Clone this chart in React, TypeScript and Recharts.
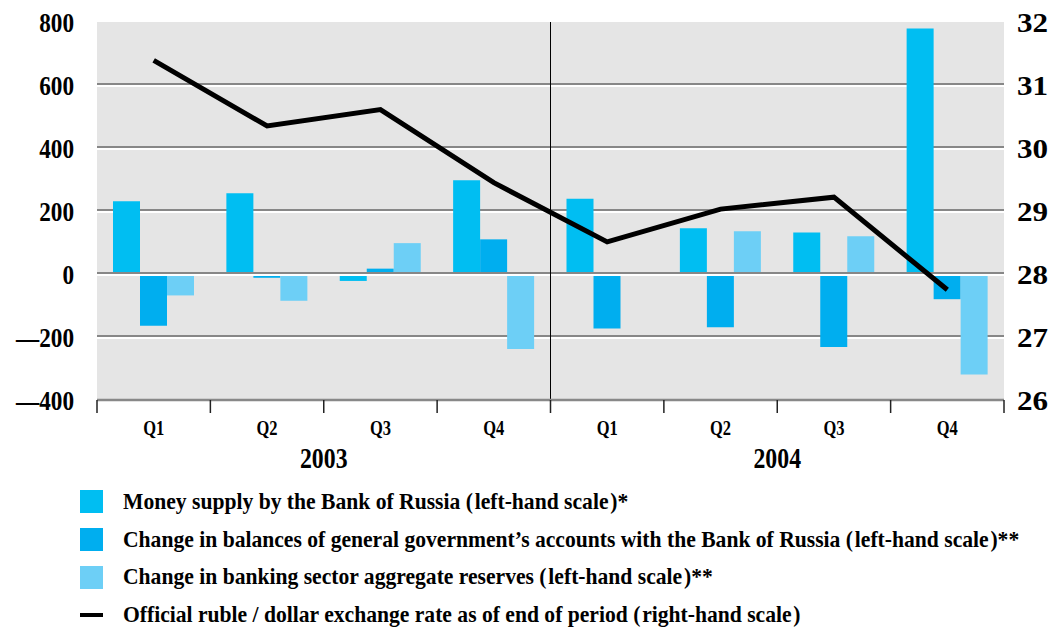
import React from 'react';
import { ComposedChart, Bar, Line, XAxis, YAxis, CartesianGrid, ReferenceLine, Legend } from 'recharts';

const quarters = ['Q1', 'Q2', 'Q3', 'Q4', 'Q1', 'Q2', 'Q3', 'Q4'];
const years = ['2003', '2004'];
const moneySupply = [231, 256, -22, 298, 239, 145, 132, 779];
const govBalances = [-164, -12, 17, 110, -173, -169, -232, -80];
const bankReserves = [-68, -85, 98, -238, -5, 136, 120, -319];
const exchangeRate = [31.39, 30.35, 30.61, 29.45, 28.51, 29.03, 29.22, 27.75];
const leftTicks = [-400, -200, 0, 200, 400, 600, 800];
const rightTicks = [26, 27, 28, 29, 30, 31, 32];
const seriesNames = [
  'Money supply by the Bank of Russia (\u200Aleft-hand scale\u200A)*',
  'Change in balances of general government\u2019s accounts with the Bank of Russia (\u200Aleft-hand scale\u200A)**',
  'Change in banking sector aggregate reserves (\u200Aleft-hand scale\u200A)**',
  'Official ruble / dollar exchange rate as of end of period (\u200Aright-hand scale\u200A)',
];
const seriesColors = ['#00BEF2', '#00AEEF', '#6DCFF6', '#000000'];

const data = quarters.map((q, i) => ({
  key: `${years[Math.floor(i / 4)]}-${q}`,
  money: moneySupply[i],
  gov: govBalances[i],
  res: bankReserves[i],
  rate: exchangeRate[i],
}));

const FONT = "'Liberation Serif', 'DejaVu Serif Condensed', 'DejaVu Serif', 'Noto Serif', serif";
const GRID_GREY = '#878787';
const TICK_COLOR = '#222';

const fmtLeft = (v: number) => (v < 0 ? '\u2014' + Math.abs(v) : String(v));

const LeftTick = (p: any) => (
  <text transform={`translate(${p.x},${p.y + 9.5}) scale(0.86,1)`} textAnchor="end"
    style={{ fontFamily: FONT, fontWeight: 700, fontSize: 27, fill: '#000' }}>
    {fmtLeft(p.payload.value)}
  </text>
);
const RightTick = (p: any) => (
  <text transform={`translate(${p.x},${p.y + 9.5}) scale(1.15,1)`} textAnchor="start"
    style={{ fontFamily: FONT, fontWeight: 700, fontSize: 27, fill: '#000' }}>
    {p.payload.value}
  </text>
);

const QuarterTick = (p: any) => {
  const { x, y, payload, index } = p;
  const half = payload.offset || 0;
  const quarter = String(payload.value).split('-')[1];
  const yearIdx = Math.floor(index / 4);
  return (
    <g>
      <line x1={x - half} x2={x - half} y1={y} y2={y + 13} stroke={TICK_COLOR} strokeWidth={1.5} />
      {index === quarters.length - 1 && (
        <line x1={x + half} x2={x + half} y1={y} y2={y + 13} stroke={TICK_COLOR} strokeWidth={1.5} />
      )}
      <text transform={`translate(${x},${y + 35}) scale(0.75,1)`} textAnchor="middle"
        style={{ fontFamily: FONT, fontWeight: 700, fontSize: 22, fill: '#000' }}>
        {quarter}
      </text>
      {index % 4 === 1 && (
        <text transform={`translate(${x + half},${y + 68}) scale(0.82,1)`} textAnchor="middle"
          style={{ fontFamily: FONT, fontWeight: 700, fontSize: 29, fill: '#000' }}>
          {years[yearIdx]}
        </text>
      )}
    </g>
  );
};

const gridLine = (p: any) => {
  if (Math.abs(p.y1 - p.y) < 1 || Math.abs(p.y1 - (p.y + p.height)) < 1) return <g key={p.key} />;
  return (
    <g key={p.key}>
      <line x1={p.x1} x2={p.x2} y1={p.y1 - 1} y2={p.y1 - 1} stroke={GRID_GREY} strokeWidth={2} />
      <line x1={p.x1} x2={p.x2} y1={p.y1 + 1} y2={p.y1 + 1} stroke="#ffffff" strokeWidth={2} />
    </g>
  );
};
const zeroLine = (p: any) => (
  <g>
    <line x1={p.x1} x2={p.x2} y1={p.y1 - 1} y2={p.y1 - 1} stroke={GRID_GREY} strokeWidth={2} />
    <line x1={p.x1} x2={p.x2} y1={p.y1 + 1} y2={p.y1 + 1} stroke="#ffffff" strokeWidth={2} />
  </g>
);

const ROW_H = 37.7;
const renderLegend = () => (
  <div style={{ fontFamily: FONT, fontWeight: 700, fontSize: 24, color: '#000', position: 'relative', width: 1053 }}>
    {seriesNames.map((name, i) => (
      <div key={name} style={{ position: 'relative', height: ROW_H, width: 1053 }}>
        {i < 3 ? (
          <div style={{ position: 'absolute', left: 80, top: (ROW_H - 23) / 2, width: 23, height: 23, background: seriesColors[i] }} />
        ) : (
          <div style={{ position: 'absolute', left: 80, top: (ROW_H - 4) / 2, width: 23, height: 4, background: seriesColors[i] }} />
        )}
        <div style={{ position: 'absolute', left: 123, top: 0, lineHeight: `${ROW_H}px`, whiteSpace: 'nowrap',
          transform: 'scaleX(0.9)', transformOrigin: 'left center' }}>{name}</div>
      </div>
    ))}
  </div>
);

export default function App() {
  return (
    <div style={{ position: 'absolute', left: 0, top: 0, width: 1053, height: 632, background: '#fff' }}>
      <ComposedChart width={1053} height={632} data={data} barGap={0}
        margin={{ top: 22, right: 0, bottom: 152, left: 0 }}>
        <CartesianGrid yAxisId="left" xAxisId="q" vertical={false} horizontal={gridLine}
          fill="#E5E5E5" fillOpacity={1} stroke="none" />
        <XAxis xAxisId="q" dataKey="key" height={80} axisLine={{ stroke: '#888', strokeWidth: 2.5 }}
          tickLine={false} tickSize={0} tickMargin={0} interval={0} tick={<QuarterTick />} />
        <YAxis yAxisId="left" domain={[-400, 800]} ticks={leftTicks} width={97} axisLine={false}
          tickLine={false} tickSize={0} tickMargin={23} interval={0} tick={<LeftTick />} />
        <YAxis yAxisId="right" orientation="right" domain={[26, 32]} ticks={rightTicks} width={49}
          axisLine={false} tickLine={false} tickSize={0} tickMargin={13} interval={0} tick={<RightTick />} />
        <Bar xAxisId="q" yAxisId="left" dataKey="money" name={seriesNames[0]} fill={seriesColors[0]} barSize={27} isAnimationActive={false} />
        <Bar xAxisId="q" yAxisId="left" dataKey="gov" name={seriesNames[1]} fill={seriesColors[1]} barSize={27} isAnimationActive={false} />
        <Bar xAxisId="q" yAxisId="left" dataKey="res" name={seriesNames[2]} fill={seriesColors[2]} barSize={27} isAnimationActive={false} />
        <ReferenceLine xAxisId="q" yAxisId="left" y={0} shape={zeroLine} />
        <ReferenceLine xAxisId="q" yAxisId="left" x={data[4].key} position="start" stroke="#000" strokeWidth={1} />
        <Line xAxisId="q" yAxisId="right" dataKey="rate" name={seriesNames[3]} type="linear" stroke="#000"
          strokeWidth={5} dot={false} activeDot={false} isAnimationActive={false} />
        <Legend layout="horizontal" verticalAlign="middle" align="center"
          wrapperStyle={{ position: 'absolute', top: 483, left: 0, width: 1053 }} content={renderLegend} />
      </ComposedChart>
    </div>
  );
}
